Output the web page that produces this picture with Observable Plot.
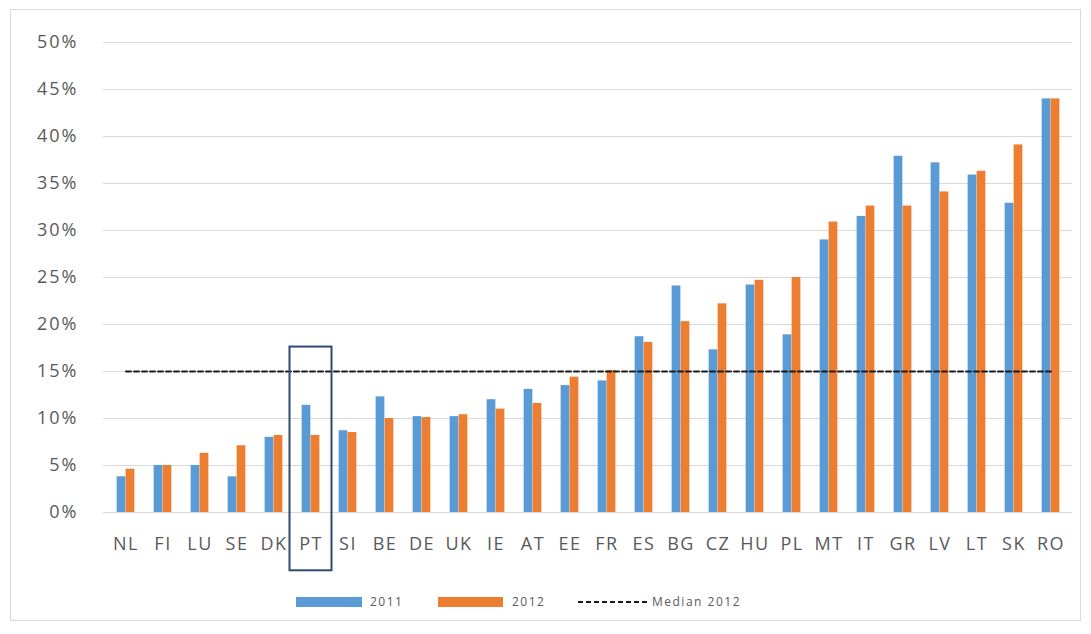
<!DOCTYPE html>
<html>
<head>
<meta charset="utf-8">
<script src="https://cdn.jsdelivr.net/npm/d3@7"></script>
<script src="https://cdn.jsdelivr.net/npm/@observablehq/plot@0.6"></script>
<style>
  html, body { margin: 0; padding: 0; background: #fff; }
  #wrap { position: relative; width: 1091px; height: 634px; font-family: "Open Sans", sans-serif; }
  #frame { position: absolute; left: 10px; top: 9px; width: 1071px; height: 612px; border: 1px solid #d9d9d9; box-sizing: border-box; }
  #chart { position: absolute; left: 0; top: 0; }
  #chart svg [aria-label="y-axis tick label"] text { letter-spacing: 2px; }
  #chart svg [aria-label="x-axis tick label"] text { letter-spacing: 1.5px; }
  #legend { position: absolute; left: 0; top: 590px; width: 1091px; height: 24px; font-size: 12px; color: #595959; }
  #legend .sw { position: absolute; top: 7px; height: 10px; }
  #legend .lb { position: absolute; top: 3px; line-height: 18px; letter-spacing: 1.5px; }
</style>
</head>
<body>
<div id="wrap">
  <div id="frame"></div>
  <div id="chart"></div>
  <div id="legend">
    <div class="sw" style="left:296px;width:66px;background:#5B9BD5"></div>
    <div class="lb" style="left:370px">2011</div>
    <div class="sw" style="left:438px;width:65px;background:#ED7D31"></div>
    <div class="lb" style="left:512px">2012</div>
    <svg style="position:absolute;left:578px;top:7px" width="70" height="10"><line x1="0" x2="70" y1="5" y2="5" stroke="#1a1a1a" stroke-width="2" stroke-dasharray="5,3"/></svg>
    <div class="lb" style="left:652px">Median 2012</div>
  </div>
</div>
<script>
// Countries, ordered as on the axis
const countries = ["NL","FI","LU","SE","DK","PT","SI","BE","DE","UK","IE","AT","EE","FR","ES","BG","CZ","HU","PL","MT","IT","GR","LV","LT","SK","RO"];
// Shares in percent
const values2011 = [3.8, 5.0, 5.0, 3.8, 8.0, 11.4, 8.7, 12.3, 10.2, 10.2, 12.0, 13.1, 13.5, 14.0, 18.7, 24.1, 17.3, 24.2, 18.9, 29.0, 31.5, 37.9, 37.2, 35.9, 32.9, 44.0];
const values2012 = [4.6, 5.0, 6.3, 7.1, 8.2, 8.2, 8.5, 10.0, 10.1, 10.4, 11.0, 11.6, 14.4, 15.1, 18.1, 20.3, 22.2, 24.7, 25.0, 30.9, 32.6, 32.6, 34.1, 36.3, 39.1, 44.0];
const median2012 = 15;
const yTicks = [0, 5, 10, 15, 20, 25, 30, 35, 40, 45, 50];
// Highlighted country and the vertical extent of its frame (percent units)
const highlight = ["PT"];
const highlightRange = [-6.2, 17.6];

const width = 1091, height = 580;
const marginLeft = 103, marginRight = 19, marginTop = 42, marginBottom = 68;
const bandwidth = (width - marginLeft - marginRight) / countries.length;
const barWidth = 9;

const rows2011 = countries.map((c, i) => ({country: c, value: values2011[i]}));
const rows2012 = countries.map((c, i) => ({country: c, value: values2012[i]}));

const chart = Plot.plot({
  width, height, marginLeft, marginRight, marginTop, marginBottom,
  style: {fontFamily: "Open Sans, sans-serif", color: "#595959", background: "transparent"},
  x: {domain: countries, padding: 0},
  y: {domain: [0, 50]},
  marks: [
    Plot.gridY(yTicks, {stroke: "#d9d9d9", strokeOpacity: 1, strokeWidth: 1.2}),
    Plot.barY(rows2011, {x: "country", y: "value", fill: "#5B9BD5",
      insetLeft: bandwidth / 2 - barWidth, insetRight: bandwidth / 2}),
    Plot.barY(rows2012, {x: "country", y: "value", fill: "#ED7D31",
      insetLeft: bandwidth / 2, insetRight: bandwidth / 2 - barWidth}),
    Plot.lineY(countries, {x: d => d, y: () => median2012, stroke: "#1a1a1a", strokeWidth: 2, strokeDasharray: "5,3"}),
    Plot.barY(highlight, {x: d => d, y1: () => highlightRange[0], y2: () => highlightRange[1],
      fill: "none", stroke: "#2F4A75", strokeWidth: 2, insetLeft: -2.5, insetRight: -2.5}),
    Plot.axisY({ticks: yTicks, tickFormat: d => d + "%", tickSize: 0, tickPadding: 25, fontSize: 18, label: null}),
    Plot.axisX({tickSize: 0, tickPadding: 25, fontSize: 18, label: null})
  ]
});
document.getElementById("chart").appendChild(chart);
</script>
</body>
</html>
